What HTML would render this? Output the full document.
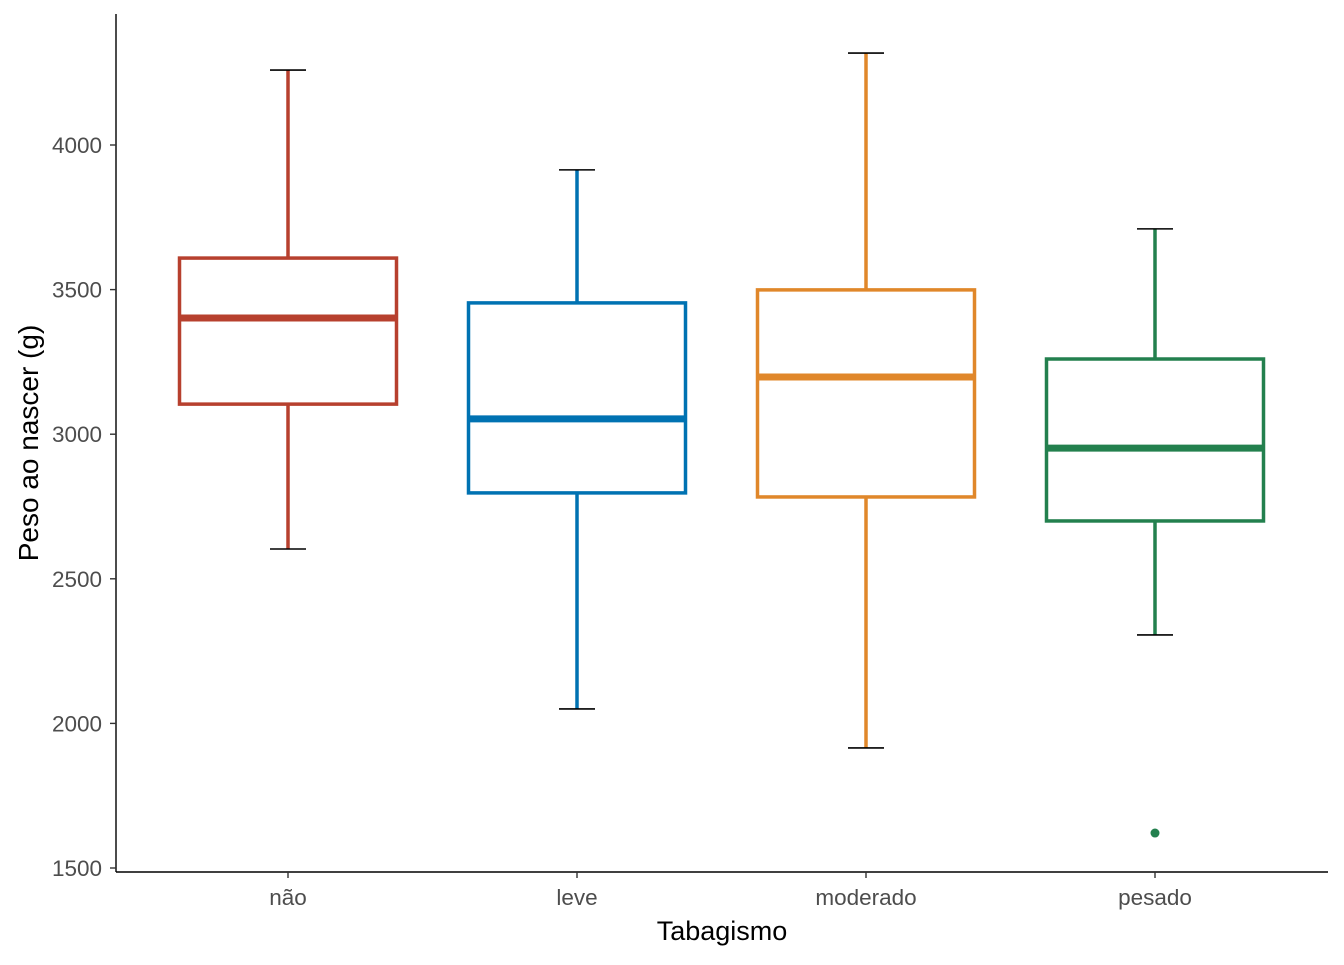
<!DOCTYPE html>
<html><head><meta charset="utf-8"><style>
body{margin:0;background:#fff}
svg text{font-family:"Liberation Sans",sans-serif}
</style></head><body>
<svg id="chart" width="1344" height="960">
<line x1="116" y1="14" x2="116" y2="872" stroke="#000" stroke-width="1.4"/>
<line x1="116" y1="872" x2="1328" y2="872" stroke="#000" stroke-width="1.4"/>
<g id="yticks"></g><g id="xticks"></g><g id="boxes"></g>
<text x="722" y="940" font-size="27" text-anchor="middle">Tabagismo</text>
<text transform="translate(38,443) rotate(-90)" font-size="28" text-anchor="middle">Peso ao nascer (g)</text>
</svg>
<script>
const categories=["não","leve","moderado","pesado"];
const whiskerLow=[2603,2050,1915,2306];
const q1=[3104,2797,2783,2700];
const median=[3402,3053,3198,2952];
const q3=[3609,3454,3499,3260];
const whiskerHigh=[4259,3914,4318,3710];
const outlierCat=[3];
const outlierVal=[1621];
const colors=["#B7402E","#0072B2","#E0872A","#23804E"];
const yTicks=[1500,2000,2500,3000,3500,4000];
const NS="http://www.w3.org/2000/svg";
const y=v=>145+(4000-v)*0.2892;
const x=i=>288+i*289;
const bw=217;
function mk(tag,attrs,parent){const e=document.createElementNS(NS,tag);for(const k in attrs)e.setAttribute(k,attrs[k]);parent.appendChild(e);return e;}
const yt=document.getElementById('yticks'),xt=document.getElementById('xticks'),bx=document.getElementById('boxes');
yTicks.forEach(v=>{
 const l=mk('line',{x1:110,x2:116,y1:y(v),y2:y(v),stroke:'#333','stroke-width':1.4},yt);
 
 
 const t=mk('text',{x:102,y:y(v)+8,'font-size':22.5,'text-anchor':'end',fill:'#4d4d4d'},yt);
 t.textContent=v;
 
 
});
categories.forEach((c,i)=>{
 const l=mk('line',{x1:x(i),x2:x(i),y1:872,y2:878,stroke:'#333','stroke-width':1.4},xt);
 
 
 const t=mk('text',{x:x(i),y:905,'font-size':22.5,'text-anchor':'middle',fill:'#4d4d4d'},xt);
 t.textContent=c;
 
 
 const g=mk('g',{},bx);
 
 
 const col=colors[i];
 mk('line',{x1:x(i),x2:x(i),y1:y(whiskerHigh[i]),y2:y(q3[i]),stroke:col,'stroke-width':3.5},g);
 mk('line',{x1:x(i),x2:x(i),y1:y(q1[i]),y2:y(whiskerLow[i]),stroke:col,'stroke-width':3.5},g);
 mk('line',{x1:x(i)-18,x2:x(i)+18,y1:y(whiskerHigh[i]),y2:y(whiskerHigh[i]),stroke:'#000','stroke-width':1.6},g);
 mk('line',{x1:x(i)-18,x2:x(i)+18,y1:y(whiskerLow[i]),y2:y(whiskerLow[i]),stroke:'#000','stroke-width':1.6},g);
 mk('rect',{x:x(i)-bw/2,y:y(q3[i]),width:bw,height:y(q1[i])-y(q3[i]),fill:'#fff',stroke:col,'stroke-width':3.5},g);
 mk('line',{x1:x(i)-bw/2,x2:x(i)+bw/2,y1:y(median[i]),y2:y(median[i]),stroke:col,'stroke-width':7},g);
});
outlierCat.forEach((ci,k)=>{
 const p=mk('circle',{cx:x(ci),cy:y(outlierVal[k]),r:4.5,fill:colors[ci]},bx);
 
 
});
</script>
</body></html>
